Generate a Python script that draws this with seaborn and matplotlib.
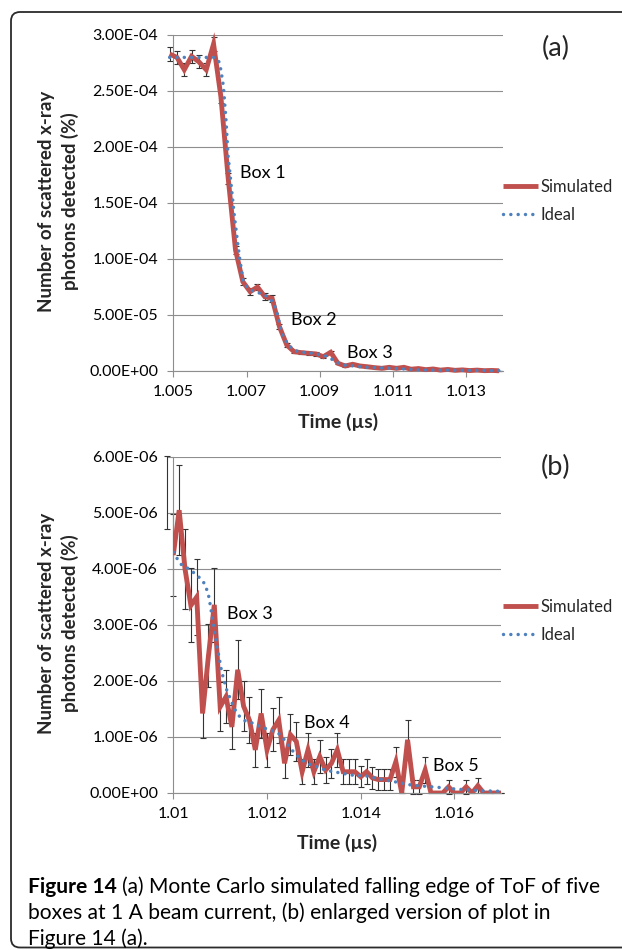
import matplotlib
matplotlib.use("Agg")
import matplotlib.pyplot as plt
import seaborn as sns
import numpy as np
import pandas as pd
from matplotlib.ticker import FixedLocator, FixedFormatter, FuncFormatter
from matplotlib.patches import FancyBboxPatch

# ------------------------------------------------------------------ data
# Panel (a): simulated falling edge (values in units of 1e-6 %)
a_sim_time = [1.0049, 1.0051, 1.0053, 1.0055, 1.0057, 1.0059, 1.0061, 1.0063, 1.0065, 1.0067,
              1.0069, 1.0071, 1.0073, 1.0075, 1.0077, 1.0079, 1.0081, 1.0083, 1.0085, 1.0087,
              1.0089, 1.0091, 1.0093, 1.0095, 1.0097, 1.0099, 1.0101, 1.0103, 1.0105, 1.0107,
              1.0109, 1.0111, 1.0113, 1.0115, 1.0117, 1.0119, 1.0121, 1.0123, 1.0125, 1.0127,
              1.0129, 1.0131, 1.0133, 1.0135, 1.0137, 1.0139]
a_sim_value = [283, 280, 269, 281, 276, 269, 292, 245, 172, 108,
               79.7, 70.8, 75.0, 66.3, 64.9, 39.6, 23.2, 17.2, 16.4, 15.8,
               15.2, 12.8, 16.7, 6.8, 4.5, 6.0, 4.5, 3.8, 3.0, 2.4,
               3.3, 2.4, 3.3, 1.6, 2.2, 1.2, 1.8, 0.8, 1.4, 0.6,
               1.0, 0.4, 0.8, 0.3, 0.5, 0.2]
a_sim_error = [6.0, 6.0, 5.9, 6.0, 5.9, 5.9, 6.1, 5.6, 4.7, 3.7,
               3.2, 3.0, 3.1, 2.9, 2.9, 2.3, 1.7, 1.5, 1.5, 1.4,
               1.4, 1.3, 1.5, 0.9, 0.8, 0.9, 0.8, 0.7, 0.6, 0.6,
               0.7, 0.6, 0.7, 0.5, 0.5, 0.4, 0.5, 0.3, 0.4, 0.3,
               0.4, 0.2, 0.3, 0.2, 0.3, 0.2]
a_ideal_time = [1.0049, 1.0061, 1.00623, 1.0063, 1.00637, 1.00644, 1.0065, 1.00655, 1.0066,
                1.00667, 1.00676, 1.00682, 1.00691, 1.00701, 1.00719, 1.00742, 1.0076, 1.00775,
                1.00783, 1.00794, 1.00801, 1.00814, 1.00833, 1.00855, 1.00883, 1.00905, 1.00924,
                1.00942, 1.00964, 1.00992, 1.01028, 1.01101, 1.01174, 1.01283, 1.0139]
a_ideal_value = [280, 280, 278, 269, 254, 224, 191, 176, 160,
                 138, 114, 99, 81, 75, 71, 69, 66, 60,
                 53, 36.6, 30.6, 23.2, 18.1, 16.7, 15.8, 14.3, 12.8,
                 8.3, 5.4, 4.5, 3.3, 2.4, 0.9, 0.6, 0.3]

# Panel (b): enlarged tail (values in units of 1e-6 %)
b_sim_time = [1.009875, 1.010000, 1.010125, 1.010250, 1.010375, 1.010500, 1.010625, 1.010750, 1.010875, 1.011000,
              1.011125, 1.011250, 1.011375, 1.011500, 1.011625, 1.011750, 1.011875, 1.012000, 1.012125, 1.012250,
              1.012375, 1.012500, 1.012625, 1.012750, 1.012875, 1.013000, 1.013125, 1.013250, 1.013375, 1.013500,
              1.013625, 1.013750, 1.013875, 1.014000, 1.014125, 1.014250, 1.014375, 1.014500, 1.014625, 1.014750,
              1.014875, 1.015000, 1.015125, 1.015250, 1.015375, 1.015500, 1.015625, 1.015750, 1.015875, 1.016000,
              1.016125, 1.016250, 1.016375, 1.016500, 1.016625, 1.016750, 1.016875, 1.017000]
b_sim_value = [5.36, 4.25, 5.05, 4.00, 3.35, 3.50, 1.42, 2.45, 3.36, 1.54,
               1.72, 1.18, 2.20, 1.55, 1.30, 0.77, 1.42, 0.77, 1.13, 1.30,
               0.53, 1.04, 0.92, 0.38, 0.77, 0.38, 0.65, 0.41, 0.53, 0.77,
               0.38, 0.38, 0.38, 0.29, 0.38, 0.27, 0.24, 0.24, 0.24, 0.56,
               0.00, 0.95, 0.11, 0.11, 0.41, 0.00, 0.00, 0.00, 0.11, 0.00,
               0.00, 0.11, 0.00, 0.13, 0.00, 0.00, 0.00, 0.00]
b_sim_error = [0.65, 0.74, 0.80, 0.72, 0.66, 0.67, 0.43, 0.56, 0.66, 0.44,
               0.47, 0.39, 0.53, 0.45, 0.41, 0.31, 0.43, 0.31, 0.38, 0.41,
               0.26, 0.37, 0.34, 0.22, 0.31, 0.22, 0.29, 0.23, 0.26, 0.31,
               0.22, 0.22, 0.22, 0.19, 0.22, 0.19, 0.18, 0.18, 0.18, 0.27,
               0.00, 0.35, 0.12, 0.12, 0.23, 0.00, 0.00, 0.00, 0.12, 0.00,
               0.00, 0.12, 0.00, 0.13, 0.00, 0.00, 0.00, 0.00]
b_ideal_time = [1.0100, 1.01007, 1.01018, 1.01034, 1.0105, 1.01063, 1.0107, 1.01076, 1.0108,
                1.01088, 1.01091, 1.01094, 1.01098, 1.01101, 1.01105, 1.0111, 1.01115, 1.01123,
                1.0113, 1.0114, 1.01153, 1.01172, 1.01189, 1.01206, 1.01224, 1.01236, 1.01248,
                1.0126, 1.01274, 1.01288, 1.01306, 1.01324, 1.01342, 1.01362, 1.01381, 1.01416,
                1.01434, 1.01473, 1.01509, 1.01566, 1.01603, 1.0166, 1.0170]
b_ideal_value = [4.30, 4.20, 4.07, 4.00, 3.89, 3.79, 3.67, 3.50, 3.30,
                 2.88, 2.73, 2.57, 2.42, 2.26, 2.11, 1.96, 1.81, 1.66,
                 1.51, 1.38, 1.29, 1.24, 1.17, 1.13, 1.07, 0.96, 0.82,
                 0.70, 0.59, 0.52, 0.47, 0.41, 0.38, 0.35, 0.32, 0.30,
                 0.26, 0.20, 0.14, 0.10, 0.07, 0.04, 0.03]

a_xticks = [1.005, 1.007, 1.009, 1.011, 1.013]
a_xticklabels = ["1.005", "1.007", "1.009", "1.011", "1.013"]
a_yticks = [0, 5e-5, 1e-4, 1.5e-4, 2e-4, 2.5e-4, 3e-4]
b_xticks = [1.010, 1.012, 1.014, 1.016]
b_xticklabels = ["1.01", "1.012", "1.014", "1.016"]
b_yticks = [0, 1e-6, 2e-6, 3e-6, 4e-6, 5e-6, 6e-6]
series_names = ["Simulated", "Ideal"]
box_labels_a = ["Box 1", "Box 2", "Box 3"]
box_labels_b = ["Box 3", "Box 4", "Box 5"]
caption_lines = [
    [("Figure 14", "bold"), ("(a) Monte Carlo simulated falling edge of ToF of five", "normal")],
    [("boxes at 1 A beam current, (b) enlarged version of plot in", "normal")],
    [("Figure 14 (a).", "normal")],
]
UNIT = 1e-6

# ------------------------------------------------------------------ style
sns.set_theme(style="white")
plt.rcParams['font.family'] = ['Lato', 'DejaVu Sans']

W, H, DPI = 622, 950, 100
fig = plt.figure(figsize=(W / DPI, H / DPI), dpi=DPI)
fig.patch.set_facecolor('white')

SIM_RED = '#C0504D'
IDEAL_BLUE = '#4F81BD'
GRID = '#8E8E8E'
ERR = '#333333'


def px_axes(l, t, r, b):
    return fig.add_axes([l / W, 1 - b / H, (r - l) / W, (b - t) / H])


def draw_panel(ax, t_sim, v_sim, e_sim, t_id, v_id, xlim, ylim, xticks, xlabels, yticks,
               clip_lines, legend_y_px):
    v_sim = np.asarray(v_sim) * UNIT
    e_sim = np.asarray(e_sim) * UNIT
    v_id = np.asarray(v_id) * UNIT
    eb = ax.errorbar(t_sim, v_sim, yerr=e_sim, fmt='none', ecolor=ERR, elinewidth=0.8,
                     capsize=2.2, capthick=0.8, zorder=2)
    for art in eb.get_children():
        art.set_clip_on(False)
    sim_df = pd.DataFrame({'time': t_sim, 'value': v_sim})
    id_df = pd.DataFrame({'time': t_id, 'value': v_id})
    sns.lineplot(data=sim_df, x='time', y='value', ax=ax, color=SIM_RED, linewidth=3.5,
                 zorder=3, solid_joinstyle='miter', solid_capstyle='butt')
    l_sim = ax.lines[-1]
    sns.lineplot(data=id_df, x='time', y='value', ax=ax, color=IDEAL_BLUE, linewidth=2.5,
                 linestyle=(0, (0.01, 2.1)), dash_capstyle='round', zorder=4)
    l_id = ax.lines[-1]
    l_sim.set_clip_on(clip_lines)
    l_id.set_clip_on(clip_lines)

    ax.set_xlim(*xlim)
    ax.set_ylim(*ylim)
    ax.xaxis.set_major_locator(FixedLocator(xticks))
    ax.xaxis.set_major_formatter(FixedFormatter(xlabels))
    ax.yaxis.set_major_locator(FixedLocator(yticks))
    ax.yaxis.set_major_formatter(FuncFormatter(lambda v, p: f"{v:.2E}"))
    ax.set_xlabel('')
    ax.set_ylabel('')
    ax.grid(axis='y', color=GRID, linewidth=0.8)
    ax.grid(axis='x', visible=False)
    ax.set_axisbelow(True)
    for s in ['top', 'right']:
        ax.spines[s].set_visible(False)
    for s in ['left', 'bottom']:
        ax.spines[s].set_color(GRID)
        ax.spines[s].set_linewidth(0.8)
    ax.tick_params(axis='y', which='major', direction='out', length=4, width=0.8,
                   color=GRID, labelsize=11.5, pad=7, left=True, labelcolor='black')
    ax.tick_params(axis='x', which='major', direction='out', length=4, width=0.8,
                   color=GRID, labelsize=11.5, pad=6, bottom=True, labelcolor='black')
    ax.set_facecolor('white')
    ax.legend(handles=[l_sim, l_id], labels=series_names, loc='center left',
              bbox_to_anchor=(503 / W, 1 - legend_y_px / H), bbox_transform=fig.transFigure,
              frameon=False, fontsize=12, handlelength=2.1, handletextpad=0.15,
              labelspacing=0.7, borderpad=0, borderaxespad=0)


axA = px_axes(173.3, 35, 502.7, 371)
axB = px_axes(173.3, 457, 501.3, 793)

draw_panel(axA, a_sim_time, a_sim_value, a_sim_error, a_ideal_time, a_ideal_value,
           (1.005, 1.014), (0, 3e-4), a_xticks, a_xticklabels, a_yticks, False, 201)
draw_panel(axB, b_sim_time, b_sim_value, b_sim_error, b_ideal_time, b_ideal_value,
           (1.010, 1.017), (0, 6e-6), b_xticks, b_xticklabels, b_yticks, True, 621)

# box annotations
for lab, (tx, ty) in zip(box_labels_a, [(1.00682, 1.77e-4), (1.00822, 4.55e-5), (1.00975, 1.65e-5)]):
    axA.text(tx, ty, lab, fontsize=13, ha='left', va='center', color='black', zorder=6)
for lab, (tx, ty) in zip(box_labels_b, [(1.01115, 3.2e-6), (1.01279, 1.25e-6), (1.01555, 0.49e-6)]):
    axB.text(tx, ty, lab, fontsize=13, ha='left', va='center', color='black', zorder=6)

# panel letters
fig.text(556 / W, 1 - 48 / H, "(a)", fontsize=19.5, ha='center', va='center')
fig.text(556 / W, 1 - 467 / H, "(b)", fontsize=19.5, ha='center', va='center')

# axis titles
ylab = "Number of scattered x-ray\nphotons detected (%)"
fig.text(58.5 / W, 1 - 201.5 / H, ylab, rotation=90, ha='center', va='center', fontsize=13.5,
         fontweight='bold', linespacing=1.4, multialignment='center')
fig.text(58.5 / W, 1 - 623.5 / H, ylab, rotation=90, ha='center', va='center', fontsize=13.5,
         fontweight='bold', linespacing=1.4, multialignment='center')
fig.text(337.7 / W, 1 - 422 / H, "Time (µs)", ha='center', va='center', fontsize=14, fontweight='bold')
fig.text(337 / W, 1 - 843 / H, "Time (µs)", ha='center', va='center', fontsize=14, fontweight='bold')

# outer rounded frame (pixel based)
frame = FancyBboxPatch((11 / DPI, 2.5 / DPI), (640 - 11) / DPI, (938 - 2.5) / DPI,
                       boxstyle="round,pad=0,rounding_size=0.09", transform=fig.dpi_scale_trans,
                       facecolor='none', edgecolor='#2b2b2b', linewidth=1.3, clip_on=False)
fig.add_artist(frame)

# caption (fit first line width to the reference)
renderer = fig.canvas.get_renderer()
CAP_FONT = ['Lato', 'DejaVu Sans']


def build_caption(fs):
    texts = []
    baselines = [893, 919, 945]
    widths = []
    for line, yb in zip(caption_lines, baselines):
        x = 28
        for i, (s, w) in enumerate(line):
            t = fig.text(x / W, 1 - yb / H, s, fontsize=fs, fontweight=w, family=CAP_FONT,
                         ha='left', va='baseline', color='black')
            texts.append(t)
            bb = t.get_window_extent(renderer)
            x = bb.x1 + 0.25 * fs * DPI / 72
            last = bb.x1
        widths.append(last - 28)
    return texts, widths


texts, widths = build_caption(13)
target = 572
fs_fit = 13 * target / widths[0]
for t in texts:
    t.remove()
build_caption(fs_fit)

fig.savefig('out.png', dpi=DPI, facecolor='white')
